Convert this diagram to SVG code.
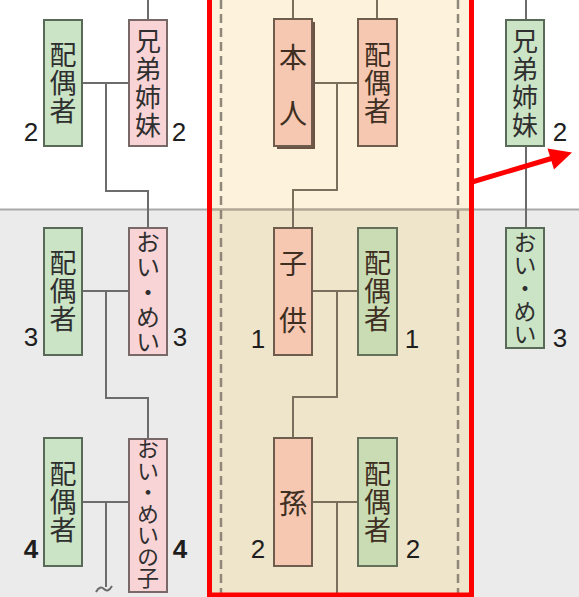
<svg xmlns="http://www.w3.org/2000/svg" width="579" height="597" viewBox="0 0 579 597">
<defs>
<style>
.j{font-family:"Noto Sans CJK JP","Noto Sans",sans-serif;text-anchor:middle;fill:#2f2f2f}
.jc{font-family:"Noto Sans CJK JP","Noto Sans",sans-serif;text-anchor:middle;fill:#3e2f22}
.v{writing-mode:vertical-rl}
.n{font-family:"Liberation Sans",Arial,sans-serif;font-size:26px;text-anchor:middle;fill:#1e1e1e}
.nb{font-weight:bold}
.g{fill:#cbe4c6;stroke:#5a6a58;stroke-width:2}
.p{fill:#f9d4d7;stroke:#786868;stroke-width:2}
.s{fill:#f6c7b1;stroke:#6e5c4c;stroke-width:2}
.gc{fill:#c9dcb4;stroke:#65705a;stroke-width:2}
.ln{fill:none;stroke:#6c6c6c;stroke-width:2}
.lc{fill:none;stroke:#7a6e5c;stroke-width:2}
</style>
</defs>
<g id="background">
<rect x="0" y="0" width="579" height="597" fill="#ffffff"/>
<rect x="0" y="210" width="579" height="387" fill="#ebebeb"/>
<rect x="209" y="0" width="263" height="210" fill="#fdf3dd"/>
<rect x="209" y="210" width="263" height="387" fill="#efe5ca"/>
<line x1="0" y1="209.5" x2="579" y2="209.5" stroke="#a9a9a9" stroke-width="2"/>
<line x1="209" y1="209.5" x2="472" y2="209.5" stroke="#b3a88f" stroke-width="2"/>
<line x1="221" y1="0" x2="221" y2="597" stroke="#8f887a" stroke-width="2.5" stroke-dasharray="9 5"/>
<line x1="458" y1="0" x2="458" y2="597" stroke="#8f887a" stroke-width="2.5" stroke-dasharray="9 5"/>
</g>
<g id="connectors">
<path class="ln" d="M148,0 V20 M82,83 H129 M106,83 V191 H148 V228 M82,291 H129 M106,291 V398 H148 V439 M82,502 H129 M106,502 V587"/>
<path class="ln" d="M96,592 Q100,585 104,589 T112,586" stroke-width="1.5"/>
<path class="lc" d="M293,0 V19 M377,0 V19 M312,83 H358 M337,83 V190 H293 V228 M312,291 H358 M337,291 V397 H293 V438 M312,502 H358 M337,502 V597"/>
<path class="ln" d="M526,0 V20 M526,146 V228"/>
</g>
<g id="frame">
<rect x="209.5" y="-5" width="262" height="600" fill="none" stroke="#ff0000" stroke-width="5"/>
</g>
<g id="arrow">
<line x1="472" y1="182" x2="553" y2="158" stroke="#ff0000" stroke-width="5"/>
<polygon points="572,152.5 554,169.5 547.5,148.5" fill="#ff0000"/>
</g>
<g id="spouse-2-left">
<rect class="g" x="44" y="20" width="38" height="126"/>
<text class="j v" font-size="27" letter-spacing="1" x="63" y="83">配偶者</text>
<text class="n" x="31" y="141">2</text>
</g>
<g id="siblings-2-left">
<rect class="p" x="129" y="20" width="38" height="126"/>
<text class="j v" font-size="26" letter-spacing="2" x="148" y="84">兄弟姉妹</text>
<text class="n" x="179" y="141">2</text>
</g>
<g id="spouse-3-left">
<rect class="g" x="44" y="228" width="38" height="127"/>
<text class="j v" font-size="27" letter-spacing="1" x="63" y="291">配偶者</text>
<text class="n" x="31" y="346">3</text>
</g>
<g id="niece-nephew-3-left">
<rect class="p" x="129" y="228" width="38" height="127"/>
<text class="j v" font-size="24" letter-spacing="1" x="148" y="292">おい・めい</text>
<text class="n" x="180" y="346">3</text>
</g>
<g id="spouse-4-left">
<rect class="g" x="44" y="438" width="38" height="128"/>
<text class="j v" font-size="27" letter-spacing="1" x="63" y="502">配偶者</text>
<text class="n nb" x="31" y="558">4</text>
</g>
<g id="niece-nephew-child-4-left">
<rect class="p" x="129" y="439" width="38" height="153"/>
<text class="j v" font-size="22" letter-spacing="-0.5" x="148" y="513">おい・めいの子</text>
<text class="n nb" x="180" y="558">4</text>
</g>
<g id="self">
<rect x="277" y="22" width="38" height="127" fill="#6b5444"/>
<rect class="s" x="274" y="19" width="38" height="127"/>
<text class="jc" font-size="28"><tspan x="293" y="68">本</tspan><tspan x="293" y="124">人</tspan></text>
</g>
<g id="spouse-self">
<rect class="s" x="358" y="19" width="39" height="127"/>
<text class="jc v" font-size="27" letter-spacing="1" x="377.5" y="83">配偶者</text>
</g>
<g id="child-1">
<rect class="s" x="274" y="228" width="38" height="127"/>
<text class="jc" font-size="28"><tspan x="293" y="274">子</tspan><tspan x="293" y="331">供</tspan></text>
<text class="n" x="258" y="348">1</text>
</g>
<g id="spouse-1">
<rect class="gc" x="358" y="228" width="39" height="127"/>
<text class="jc v" font-size="27" letter-spacing="1" x="377.5" y="291">配偶者</text>
<text class="n" x="412" y="348">1</text>
</g>
<g id="grandchild-2">
<rect class="s" x="274" y="438" width="38" height="128"/>
<text class="jc" font-size="28" x="293" y="514">孫</text>
<text class="n" x="258" y="558">2</text>
</g>
<g id="spouse-2-center">
<rect class="gc" x="358" y="438" width="39" height="128"/>
<text class="jc v" font-size="27" letter-spacing="1" x="377.5" y="502">配偶者</text>
<text class="n" x="413" y="558">2</text>
</g>
<g id="siblings-2-right">
<rect class="g" x="506" y="20" width="38" height="126"/>
<text class="j v" font-size="26" letter-spacing="2" x="525" y="84">兄弟姉妹</text>
<text class="n" x="560" y="141">2</text>
</g>
<g id="niece-nephew-3-right">
<rect class="g" x="506" y="228" width="38" height="120"/>
<text class="j v" font-size="23" letter-spacing="0" x="525" y="288">おい・めい</text>
<text class="n" x="560" y="347">3</text>
</g>
</svg>
